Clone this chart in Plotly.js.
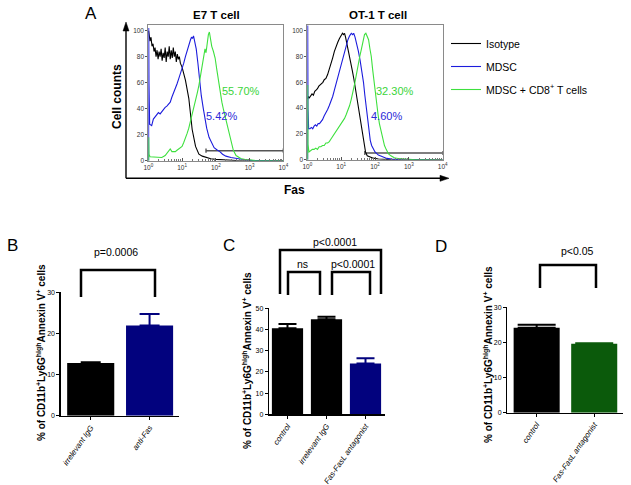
<!DOCTYPE html>
<html><head><meta charset="utf-8">
<script src="https://cdn.plot.ly/plotly-3.0.1.min.js"></script>
<style>html,body{margin:0;padding:0;background:#fff}#chart{width:631px;height:485px}</style>
</head><body><div id="chart"></div>
<script>
// ---------- Panel A : Fas histograms (x as log10 of Fas intensity, y = cell counts, % of max) ----------
const e7IsoExp = [0.01,0.02,0.05,0.08,0.11,0.14,0.17,0.20,0.23,0.26,0.29,0.32,0.35,0.38,0.41,0.44,0.47,0.50,0.53,0.56,0.59,0.62,0.65,0.68,0.71,0.74,0.77,0.80,0.83,0.86,0.89,0.92,0.95,1.00,1.10,1.20,1.30,1.40,1.50,1.60,1.70,1.85,2.00,2.30,2.60,3.00,4.00];
const e7IsoCnt = [100,98,92,95,88,90,84,87,80,85,78,84,80,86,77,83,79,87,76,84,80,88,78,85,79,87,80,84,76,82,78,80,75,72,62,48,24,11,5,3.5,2.5,1.5,1,0.5,0.2,0,0];
const e7MdscExp = [0.01,0.012,0.02,0.04,0.10,0.15,0.20,0.25,0.30,0.35,0.40,0.45,0.50,0.55,0.60,0.65,0.70,0.75,0.80,0.85,0.90,0.95,1.00,1.05,1.10,1.15,1.20,1.25,1.28,1.31,1.34,1.38,1.42,1.47,1.52,1.57,1.63,1.68,1.73,1.80,1.88,1.95,2.05,2.12,2.20,2.30,2.45,2.60,2.75,2.90,3.10,3.40,4.00];
const e7MdscCnt = [0,102,60,28,27,32,34,35,37,36,38,40,41,42,44,45,49,52,56,59,63,67,70,75,80,85,89,93,95,94,96,92,86,75,62,50,40,31,25,18,13,10,8,7,5,3.5,2.5,1.8,1,0.5,0.2,0,0];
const e7CoExp = [0.01,0.012,0.02,0.05,0.10,0.20,0.30,0.40,0.50,0.55,0.60,0.65,0.70,0.80,0.85,0.90,0.95,1.00,1.05,1.10,1.15,1.20,1.25,1.30,1.35,1.40,1.45,1.50,1.55,1.60,1.65,1.68,1.71,1.74,1.78,1.81,1.84,1.88,1.93,1.98,2.03,2.08,2.13,2.18,2.23,2.28,2.33,2.38,2.45,2.52,2.60,2.67,2.75,2.85,3.00,3.20,4.00];
const e7CoCnt = [0,18,5,3,3,2.5,3,2.5,4,6,8,9,7,7,8,9,10,11,14,17,21,25,30,36,42,47,52,58,65,73,82,86,83,90,97,99,94,88,84,79,70,61,52,45,39,34,27,22,15,8,4,3,1.5,1,0.5,0,0];

const otIsoExp = [0.01,0.03,0.06,0.10,0.14,0.18,0.22,0.26,0.30,0.34,0.38,0.42,0.46,0.50,0.55,0.60,0.65,0.70,0.75,0.80,0.85,0.90,0.95,1.00,1.04,1.07,1.10,1.13,1.18,1.23,1.28,1.33,1.38,1.43,1.48,1.53,1.58,1.63,1.68,1.72,1.77,1.85,1.95,2.10,2.30,2.50,4.00];
const otIsoCnt = [47,49,48,50,51,50,53,54,55,57,58,59,60,62,63,66,70,75,79,84,88,91,94,96,98,97,98,95,89,82,76,69,62,54,45,37,28,19,11,6,3,2,1.2,0.6,0.2,0,0];
const otMdscExp = [0.01,0.012,0.02,0.04,0.08,0.12,0.16,0.20,0.24,0.28,0.32,0.36,0.40,0.45,0.50,0.55,0.60,0.65,0.70,0.75,0.80,0.85,0.90,0.95,1.00,1.05,1.10,1.15,1.20,1.25,1.30,1.34,1.37,1.41,1.46,1.51,1.56,1.61,1.66,1.70,1.74,1.78,1.82,1.86,1.90,1.95,2.00,2.10,2.20,2.35,2.50,2.70,4.00];
const otMdscCnt = [0,104,40,24,24,25,24,26,27,26,28,28,29,31,34,36,39,42,45,49,54,59,64,69,74,79,85,89,93,96,98,97,98,95,90,84,77,70,60,50,41,30,22,15,11,8,6,3.6,2.5,1,0.5,0,0];
const otCoExp = [0.01,0.012,0.02,0.05,0.10,0.15,0.20,0.25,0.30,0.35,0.40,0.45,0.50,0.55,0.60,0.65,0.70,0.75,0.80,0.85,0.90,0.95,1.00,1.05,1.10,1.15,1.20,1.25,1.30,1.35,1.40,1.45,1.50,1.55,1.60,1.65,1.69,1.73,1.77,1.81,1.85,1.89,1.93,1.97,2.01,2.05,2.09,2.13,2.18,2.23,2.28,2.33,2.40,2.47,2.57,2.72,2.92,3.20,4.00];
const otCoCnt = [0,58,12,6,7,8,8,9,8,10,10,11,11,13,13,14,16,18,19,21,23,25,27,29,32,35,38,42,47,52,59,66,74,80,86,93,97,98,96,93,86,80,70,60,52,43,35,28,22,16,11,8,4.5,3,1.5,0.8,0.3,0,0];

const seriesNames = ["Isotype", "MDSC", "MDSC + CD8<sup>+</sup> T cells"];
const seriesColors = ["#000000", "#1c1cdc", "#3ee03e"];
const gateExp = {e7: [1.71, 4.0], ot: [1.70, 4.0]};
const gateLevel = {e7: 7.7, ot: 5.2};
const pctLabels = {e7: ["55.70%", "5.42%"], ot: ["32.30%", "4.60%"]};
const histTickVals = [1, 10, 100, 1000, 10000];
const histTickText = ["10<sup>0</sup>","10<sup>1</sup>","10<sup>2</sup>","10<sup>3</sup>","10<sup>4</sup>"];

// ---------- Panels B, C, D : % of CD11b+Ly6Ghigh Annexin V+ cells ----------
const bCats = ["irrelevant IgG", "anti-Fas"];
const bVals = [12.8, 21.9];
const bErr  = [0.2, 2.8];
const bColors = ["#000000", "#02027e"];

const cCats = ["control", "irrelevant IgG", "Fas-FasL antagonist"];
const cVals = [40.6, 44.8, 24.0];
const cErr  = [2.0, 1.2, 2.4];
const cColors = ["#000000", "#000000", "#02027e"];

const dCats = ["control", "Fas-FasL antagonist"];
const dVals = [24.2, 19.6];
const dErr  = [0.8, 0.15];
const dColors = ["#000000", "#0b5a0b"];

// ---------- helpers ----------
const W = 631, H = 485;
const X = p => p / W, Y = p => 1 - p / H;
const FONT = "Arial, 'Liberation Sans', sans-serif";
const toFas = arr => arr.map(v => Math.pow(10, v));

const traces = [];
const histSets = [
  {ax: "x", ay: "y", exps: [e7IsoExp, e7MdscExp, e7CoExp], cnts: [e7IsoCnt, e7MdscCnt, e7CoCnt], legend: true, key: "e7"},
  {ax: "x2", ay: "y2", exps: [otIsoExp, otMdscExp, otCoExp], cnts: [otIsoCnt, otMdscCnt, otCoCnt], legend: false, key: "ot"}
];
histSets.forEach(s => {
  const g = toFas(gateExp[s.key]), L = gateLevel[s.key];
  traces.push({type: "scatter", mode: "lines", xaxis: s.ax, yaxis: s.ay, showlegend: false, hoverinfo: "skip",
    x: [g[0], g[0], null, g[0], g[1], null, g[1], g[1]],
    y: [L - 1.6, L + 1.6, null, L, L, null, L - 1.6, L + 1.6],
    line: {color: "#555555", width: 1.4}});
  for (let i = 0; i < 3; i++) {
    traces.push({type: "scatter", mode: "lines", xaxis: s.ax, yaxis: s.ay,
      name: seriesNames[i], legendgroup: "g" + i, showlegend: s.legend,
      x: toFas(s.exps[i]), y: s.cnts[i],
      line: {color: seriesColors[i], width: 1.1}});
  }
});

function addBars(cats, vals, errs, colors, ax, ay, capw) {
  cats.forEach((c, i) => {
    traces.push({type: "bar", xaxis: ax, yaxis: ay, showlegend: false,
      x: [c], y: [vals[i]], marker: {color: colors[i], line: {width: 0}},
      error_y: {type: "data", symmetric: false, array: [errs[i]], arrayminus: [0],
                color: colors[i], thickness: 2, width: capw}});
  });
}
addBars(bCats, bVals, bErr, bColors, "x3", "y3", 10);
addBars(cCats, cVals, cErr, cColors, "x4", "y4", 9);
addBars(dCats, dVals, dErr, dColors, "x5", "y5", 19);

// ---------- axes ----------
const minorVals = [];
for (let d = 1; d < 10000; d *= 10) for (let k = 2; k <= 9; k++) minorVals.push(k * d);

function histX(d0, d1, anchor) {
  return {domain: [X(d0), X(d1)], type: "log", range: [0, 4], anchor: anchor,
    tickmode: "array", tickvals: histTickVals, ticktext: histTickText,
    ticks: "inside", ticklen: 3, tickcolor: "#555", tickfont: {family: FONT, size: 6.5, color: "#333"},
    minor: {tickmode: "array", tickvals: minorVals, ticks: "inside", ticklen: 2, tickcolor: "#777"},
    showline: true, mirror: true, linecolor: "#8a8a8a", linewidth: 1,
    showgrid: false, zeroline: false, fixedrange: true};
}
function histY(p0, p1, top, anchor) {
  const maxV = 100 * (p0 - top) / (p0 - p1);
  return {domain: [Y(p0), Y(top)], range: [0, maxV], anchor: anchor,
    tickvals: [0, 20, 40, 60, 80, 100], ticks: "outside", ticklen: 2, tickcolor: "#555",
    tickfont: {family: FONT, size: 6.5, color: "#333"},
    showline: true, mirror: true, linecolor: "#8a8a8a", linewidth: 1,
    showgrid: false, zeroline: false, fixedrange: true};
}
function barX(cats, d0, d1, r0, r1, anchor) {
  return {domain: [X(d0), X(d1)], type: "category", categoryarray: cats, range: [r0, r1], anchor: anchor,
    tickmode: "array", tickvals: cats, ticktext: cats.map(c => "<i>" + c + "</i>"),
    tickangle: -55, ticks: "outside", ticklen: 3, tickwidth: 1, tickcolor: "#000",
    tickfont: {family: FONT, size: 7.8, color: "#000"},
    showline: true, linecolor: "#000", linewidth: 1.3, showgrid: false, zeroline: false, fixedrange: true};
}
function barY(p0, p1, maxV, anchor) {
  return {domain: [Y(p0), Y(p1)], range: [0, maxV], dtick: 10, anchor: anchor,
    ticks: "outside", ticklen: 3, tickwidth: 1, tickcolor: "#000",
    tickfont: {family: FONT, size: 7, color: "#000"},
    showline: true, linecolor: "#000", linewidth: 1.3, showgrid: false, zeroline: false, fixedrange: true};
}

// ---------- annotations ----------
const ann = [];
function txt(t, x, y, size, opts) {
  ann.push(Object.assign({text: t, xref: "paper", yref: "paper", x: X(x), y: Y(y),
    xanchor: "center", yanchor: "middle", showarrow: false,
    font: {family: FONT, size: size, color: "#000"}}, opts || {}));
}
txt("A", 91, 13, 17);
txt("<b>E7 T cell</b>", 216, 15, 11.5);
txt("<b>OT-1 T cell</b>", 378, 15, 11.5);
txt("<b>Cell counts</b>", 117, 97, 12, {textangle: -90});
txt("<b>Fas</b>", 294, 190, 12);
txt(pctLabels.e7[0], 241, 91, 11, {font: {family: FONT, size: 11, color: "#3ad43a"}});
txt(pctLabels.e7[1], 221, 116, 11, {font: {family: FONT, size: 11, color: "#2a2ad8"}});
txt(pctLabels.ot[0], 395, 91, 11, {font: {family: FONT, size: 11, color: "#3ad43a"}});
txt(pctLabels.ot[1], 386, 116, 11, {font: {family: FONT, size: 11, color: "#2a2ad8"}});
txt("B", 12, 245, 17);
txt("C", 229, 245, 17);
txt("D", 441, 247, 17);
const yTitle = "<b>% of CD11b<sup>+</sup>Ly6G<sup>high</sup>Annexin V<sup>+</sup> cells</b>";
txt(yTitle, 41, 353, 10, {textangle: -90});
txt(yTitle, 247, 360, 10, {textangle: -90});
txt(yTitle, 488, 355, 10, {textangle: -90});
txt("p=0.0006", 116, 252, 10.5);
txt("p<0.0001", 335, 242, 10.5);
txt("ns", 302, 264, 10.5);
txt("p<0.0001", 353, 264, 10.5);
txt("p<0.05", 577, 251, 10.5);

// ---------- shapes: panel A arrow axes and significance brackets ----------
const shapes = [];
function seg(x0, y0, x1, y1, w) {
  shapes.push({type: "line", xref: "paper", yref: "paper", x0: X(x0), y0: Y(y0), x1: X(x1), y1: Y(y1),
    line: {color: "#000", width: w}});
}
function tri(pts) {
  shapes.push({type: "path", xref: "paper", yref: "paper",
    path: "M " + pts.map(p => X(p[0]) + "," + Y(p[1])).join(" L ") + " Z",
    fillcolor: "#000", line: {color: "#000", width: 0.5}});
}
seg(126, 178.3, 126, 28, 1.4);
tri([[126, 22], [123, 31], [129, 31]]);
seg(126, 178.3, 442, 178.3, 1.4);
tri([[449, 178.3], [440, 175.3], [440, 181.3]]);

function bracket(x0, x1, top, bottom) {
  shapes.push({type: "path", xref: "paper", yref: "paper",
    path: `M ${X(x0)},${Y(bottom)} L ${X(x0)},${Y(top)} L ${X(x1)},${Y(top)} L ${X(x1)},${Y(bottom)}`,
    line: {color: "#000", width: 2.5}});
}
bracket(81, 155, 270, 297);
bracket(280, 381, 250, 294);
bracket(288, 320, 272, 295);
bracket(332, 370, 272, 295);
bracket(540, 596, 265, 288);

const layout = {
  width: W, height: H, margin: {l: 0, r: 0, t: 0, b: 0},
  paper_bgcolor: "#fff", plot_bgcolor: "rgba(0,0,0,0)",
  font: {family: FONT, color: "#000"},
  barmode: "overlay",
  showlegend: true,
  legend: {x: X(446), y: Y(29), xanchor: "left", yanchor: "top", bgcolor: "rgba(0,0,0,0)",
    font: {family: FONT, size: 10.5, color: "#000"}, tracegroupgap: 4, itemwidth: 30},
  xaxis: histX(148.3, 283.3, "y"),
  yaxis: histY(160.7, 30.7, 25, "x"),
  xaxis2: histX(307.3, 442.7, "y2"),
  yaxis2: histY(159.7, 30.7, 25, "x2"),
  xaxis3: barX(bCats, 60.7, 179, -0.51, 1.5, "y3"),
  yaxis3: barY(415.7, 292.3, 30, "x3"),
  xaxis4: barX(cCats, 269, 385, -0.474, 2.5, "y4"),
  yaxis4: barY(414.3, 308.3, 50, "x4"),
  xaxis5: barX(dCats, 507.3, 623, -0.51, 1.5, "y5"),
  yaxis5: barY(412.7, 307.3, 30, "x5"),
  annotations: ann, shapes: shapes
};
Plotly.newPlot("chart", traces, layout, {displayModeBar: false, staticPlot: true});
</script></body></html>
